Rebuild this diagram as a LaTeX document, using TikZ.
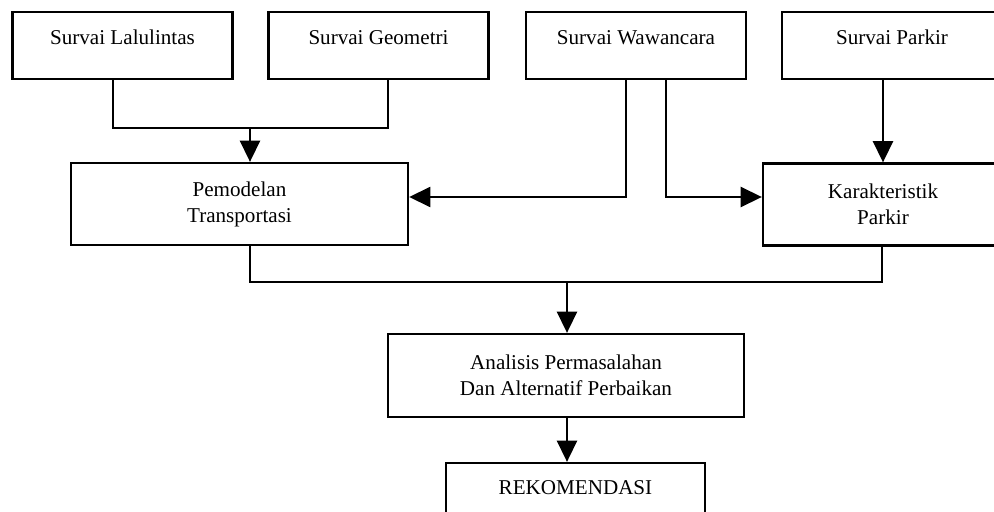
\documentclass[tikz,border=0pt]{standalone}
\usepackage{fontspec}
\setmainfont{Liberation Serif}
\usetikzlibrary{arrows.meta}
\begin{document}
\begin{tikzpicture}[x=0.025cm,y=-0.025cm,->,>={Triangle[length=0.53cm,width=0.5cm]},line width=1.6pt]
\tikzset{BoxStyle/.style = {draw,-,inner sep=0pt,align=center,font=\fontsize{15}{18.5}\selectfont},
  SurvaiStyle/.style = {BoxStyle,minimum width=5.5cm,minimum height=1.675cm,text height=10pt,text depth=12pt}}
\clip (0,0) rectangle (994,512);
\node[SurvaiStyle](lalu) at (122.5,45.5) {Survai Lalulintas}; \node[SurvaiStyle](geo) at (378.5,45.5) {Survai Geometri};
\node[SurvaiStyle](waw) at (636,45.5) {Survai Wawancara}; \node[SurvaiStyle](parkir) at (892,45.5) {Survai Parkir};
\node[BoxStyle,minimum width=8.425cm,minimum height=2.05cm](model) at (239.5,204) {Pemodelan\\Transportasi};
\node[BoxStyle,minimum width=6cm,minimum height=2.05cm](karak) at (883,204.5) {Karakteristik\\Parkir};
\node[BoxStyle,minimum width=8.9cm,minimum height=2.075cm](analisis) at (566,375.5) {Analisis Permasalahan\\Dan Alternatif Perbaikan};
\node[BoxStyle,minimum width=6.475cm,minimum height=1.25cm](rekom) at (575.5,488) {REKOMENDASI};
\coordinate (m1) at (250,128); \coordinate (m2) at (113,128); \coordinate (m3) at (388,128);
\coordinate (w1) at (626,197); \coordinate (w2) at (666,197);
\coordinate (b1) at (250,282); \coordinate (b2) at (882,282); \coordinate (b3) at (567,282);
\draw[-] (lalu.south -| m2) -- (m2) -- (m3) -- (geo.south -| m3);
\draw (m1) -- (model.north -| m1);
\draw (waw.south -| w1) -- (w1) -- (w1 -| model.east);
\draw (waw.south -| w2) -- (w2) -- (w2 -| karak.west);
\draw (parkir.south -| karak.north) -- (karak.north);
\draw[-] (model.south -| b1) -- (b1) -- (b2) -- (karak.south -| b2);
\draw (b3) -- (analisis.north -| b3);
\draw (analisis.south -| b3) -- (rekom.north -| b3);
\end{tikzpicture}
\end{document}
